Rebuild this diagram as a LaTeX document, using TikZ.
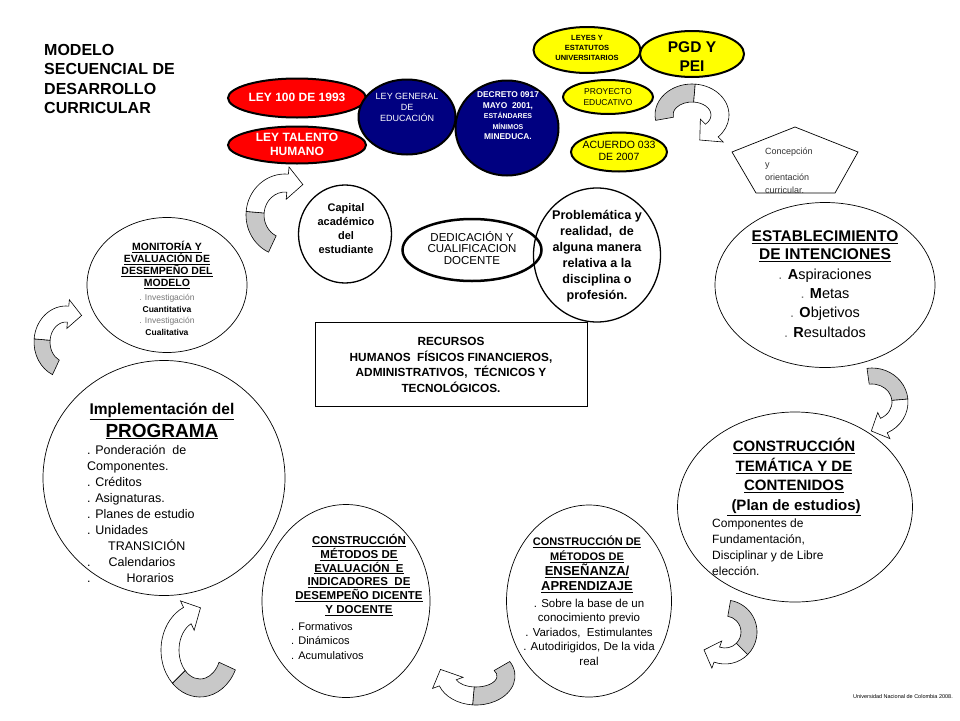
\documentclass[tikz,border=0pt]{standalone}
\usepackage{fontspec}
\setmainfont{Liberation Sans}
\usepackage{xcolor}
\usepackage{tikz}
\usetikzlibrary{shapes,arrows,positioning}

\definecolor{leyred}{RGB}{255,0,0}
\definecolor{leyblue}{RGB}{0,0,128}
\definecolor{leyyellow}{RGB}{255,255,0}
\definecolor{ribbon}{RGB}{200,200,200}
\definecolor{softgray}{RGB}{120,120,120}

\newcommand{\fs}[2]{\fontsize{#1}{#2}\selectfont}
\newcommand{\gdot}{{\color{softgray}.}}
% curved ribbon arrow: cx, cy, rx, ry, start, turn, end, half width
\newcommand{\twistarrow}[8]{%
  \pgfmathsetmacro{\twsg}{ifthenelse(#7>#6,1,-1)}%
  \pgfmathsetmacro{\twdx}{-(\twsg)*#3*sin(#7)}%
  \pgfmathsetmacro{\twdy}{(\twsg)*#4*cos(#7)}%
  \pgfmathsetmacro{\twn}{veclen(\twdx,\twdy)}%
  \pgfmathsetmacro{\twtx}{#3*cos(#7)+1.7*#8*\twdx/\twn}%
  \pgfmathsetmacro{\twty}{#4*sin(#7)+1.7*#8*\twdy/\twn}%
  \begin{scope}[shift={(#1,#2)}]
    \path[twistback] (#5:#3+#8 and #4+#8) arc[start angle=#5, end angle=#6, x radius=#3+#8, y radius=#4+#8]
      -- (#6:#3-#8 and #4-#8) arc[start angle=#6, end angle=#5, x radius=#3-#8, y radius=#4-#8] -- cycle;
    \path[twistfront] (#6:#3+#8 and #4+#8) arc[start angle=#6, end angle=#7, x radius=#3+#8, y radius=#4+#8]
      -- (#7:#3+1.8*#8 and #4+1.8*#8) -- (\twtx,\twty) -- (#7:#3-1.8*#8 and #4-1.8*#8)
      -- (#7:#3-#8 and #4-#8) arc[start angle=#7, end angle=#6, x radius=#3-#8, y radius=#4-#8] -- cycle;
  \end{scope}}

\tikzset{
  law/.style={draw, ellipse, line width=2pt, inner sep=0pt},
  stage/.style={draw, ellipse, line width=0.7pt, inner sep=0pt},
  txt/.style={inner sep=0pt, align=center},
  twistback/.style={draw, line width=0.6pt, fill=ribbon},
  twistfront/.style={draw, line width=0.6pt, fill=white},
}

\begin{document}
\begin{tikzpicture}[x=1pt, y=-1pt]
    \useasboundingbox (0,0) rectangle (960,720);
    \fill[white] (0,0) rectangle (960,720);

    \node[txt, anchor=north west, align=left, font=\bfseries\fs{16}{19.5}] (title) at (44,44) {MODELO\\SECUENCIAL DE\\DESARROLLO\\CURRICULAR};

    \node[law, fill=leyred, minimum width=138, minimum height=39] (ley100) at (297,98) {};
    \node[txt, text=white, font=\bfseries\fs{12}{14}] (ley100t) at (297,97) {LEY 100 DE 1993};
    \node[law, fill=leyred, minimum width=138, minimum height=37] (talento) at (297,145) {};
    \node[txt, text=white, font=\bfseries\fs{12}{14}] (talentot) at (297,144) {LEY TALENTO\\HUMANO};

    \node[law, fill=leyblue, minimum width=97, minimum height=75] (leygen) at (407,117) {};
    \node[txt, text=white, font=\fs{9}{11}] (leygent) at (407,107) {LEY GENERAL\\DE\\EDUCACIÓN};
    \node[law, fill=leyblue, minimum width=103, minimum height=95] (decreto) at (507,128) {};
    \node[txt, text=white, font=\bfseries\fs{8.4}{10.5}] (decretot) at (508,116) {DECRETO 0917\\MAYO \ 2001,\\{\fs{7}{10}ESTÁNDARES}\\{\fs{7}{10}MÍNIMOS}\\MINEDUCA.};

    \node[law, fill=leyyellow, minimum width=107, minimum height=46] (leyes) at (587,50) {};
    \node[txt, font=\bfseries\fs{7.5}{10}] (leyest) at (587,48) {LEYES Y\\ESTATUTOS\\UNIVERSITARIOS};
    \node[law, fill=leyyellow, minimum width=104, minimum height=46] (pgd) at (692,54) {};
    \node[txt, font=\bfseries\fs{15.5}{19}] (pgdt) at (692,57) {PGD Y\\PEI};
    \node[law, fill=leyyellow, minimum width=90, minimum height=34] (proyecto) at (608,97) {};
    \node[txt, font=\fs{8.5}{11}] (proyectot) at (608,97) {PROYECTO\\EDUCATIVO};
    \node[law, fill=leyyellow, minimum width=96, minimum height=39] (acuerdo) at (619,152) {};
    \node[txt, font=\fs{10.5}{12}] (acuerdot) at (619,151) {ACUERDO 033\\DE 2007};

    \draw[line width=0.7pt] (795,127) -- (858,152) -- (835,193) -- (756,193) -- (732,152) -- cycle;
    \node[txt, anchor=west, align=left, text=black!80, font=\fs{9}{13}] (concepcion) at (765,171) {Concepción\\y\\orientación\\curricular.};

    \node[draw, ellipse, line width=1.3pt, minimum width=93, minimum height=98] (capital) at (345,234) {};
    \node[txt, font=\bfseries\fs{11}{14}] (capitalt) at (346,229) {Capital\\académico\\del\\estudiante};
    \node[draw, ellipse, line width=2.5pt, minimum width=139, minimum height=62] (dedicacion) at (472,250) {};
    \node[txt, font=\fs{11.5}{11.7}] (dedicaciont) at (472,248) {DEDICACIÓN Y\\CUALIFICACION\\DOCENTE};
    \node[draw, ellipse, line width=1.3pt, minimum width=127, minimum height=134] (problema) at (597,255) {};
    \node[txt, font=\bfseries\fs{12.6}{16}] (problemat) at (597,256) {Problemática y\\realidad, \ de\\alguna manera\\relativa a la\\disciplina o\\profesión.};

    \node[draw, line width=0.8pt, minimum width=272, minimum height=84] (recursos) at (451,364) {};
    \node[txt, font=\bfseries\fs{11.8}{15.7}] (recursost) at (451,365) {RECURSOS\\HUMANOS \ FÍSICOS FINANCIEROS,\\ADMINISTRATIVOS, \ TÉCNICOS Y\\TECNOLÓGICOS.};

    \node[stage, minimum width=160, minimum height=135] (monitoria) at (167,285) {};
    \node[txt, font=\bfseries\fs{10.5}{12}] (monitoriat) at (167,265) {\underline{MONITORÍA Y}\\\underline{EVALUACIÓN DE}\\\underline{DESEMPEÑO DEL}\\\underline{MODELO}};
    \node[txt, font=\fs{8.5}{11.5}] (monitorial) at (167,315) {{\color{softgray}. Investigación}\\\textbf{Cuantitativa}\\{\color{softgray}. Investigación}\\\textbf{Cualitativa}};

    \node[stage, minimum width=220, minimum height=165] (intenciones) at (825,285) {};
    \node[txt, font=\bfseries\fs{15.5}{18}] (intencionest) at (825,246) {\underline{ESTABLECIMIENTO}\\\underline{DE INTENCIONES}};
    \node[txt, font=\fs{14.5}{19.3}] (intencionesl) at (825,303) {\gdot{} \textbf{A}spiraciones\\\gdot{} \textbf{M}etas\\\gdot{} \textbf{O}bjetivos\\\gdot{} \textbf{R}esultados};

    \node[stage, minimum width=242, minimum height=235] (programa) at (164,478) {};
    \node[txt, font=\bfseries\fs{15.5}{23}] (programat) at (162,421) {\underline{Implementación del}\\\underline{\fs{19}{23}PROGRAMA}};
    \node[txt, anchor=north west, align=left, font=\fs{12.5}{16}] (programal) at (87,445) {. Ponderación \ de\\Componentes.\\. Créditos\\. Asignaturas.\\. Planes de estudio\\. Unidades\\\hspace*{21pt}TRANSICIÓN\\.\hspace*{18pt}Calendarios\\.\hspace*{36pt}Horarios};

    \node[stage, minimum width=235, minimum height=190] (tematica) at (795,507) {};
    \node[txt, font=\bfseries\fs{15}{19.5}] (tematicat) at (794,477) {\underline{CONSTRUCCIÓN}\\\underline{TEMÁTICA Y DE}\\\underline{CONTENIDOS}\\\underline{\ (Plan de estudios)}};
    \node[txt, anchor=north west, align=left, font=\fs{12}{16}] (tematical) at (712,519) {Componentes de\\Fundamentación,\\Disciplinar y de Libre\\elección.};

    \node[stage, minimum width=168, minimum height=193] (evaluacion) at (346,601) {};
    \node[txt, font=\bfseries\fs{11.5}{13.8}] (evaluaciont) at (359,575) {\underline{CONSTRUCCIÓN}\\\underline{MÉTODOS DE}\\\underline{EVALUACIÓN \ E}\\\underline{INDICADORES \ DE}\\\underline{DESEMPEÑO DICENTE}\\\underline{Y DOCENTE}};
    \node[txt, anchor=north west, align=left, font=\fs{11}{14.5}] (evaluacionl) at (291,622) {. Formativos\\. Dinámicos\\. Acumulativos};

    \node[stage, minimum width=165, minimum height=192] (ensenanza) at (589,601) {};
    \node[txt, font=\bfseries\fs{11}{15}] (ensenanzat) at (587,564) {\underline{CONSTRUCCIÓN DE}\\\underline{MÉTODOS DE}\\\underline{\fs{13}{15}ENSEÑANZA/}\\\underline{\fs{13}{15}APRENDIZAJE}};
    \node[txt, font=\fs{11.5}{14.5}] (ensenanzal) at (589,632) {. Sobre la base de un\\conocimiento previo\\. Variados, \ Estimulantes\\. Autodirigidos, De la vida\\real};

    \node[txt, anchor=east, font=\fs{5.5}{6}] (fuente) at (953,697) {Universidad Nacional de Colombia 2008.};

    \twistarrow{692}{115}{28}{22}{170}{275}{405}{9}
    \twistarrow{285}{215}{30}{32}{115}{185}{275}{9}
    \twistarrow{66}{342}{24}{28}{115}{185}{275}{8}
    \twistarrow{872}{402}{28}{26}{262}{355}{425}{8}
    \twistarrow{200}{650}{30}{38}{25}{135}{245}{9}
    \twistarrow{476}{676}{30}{20}{-30}{95}{160}{9}
    \twistarrow{725}{632}{24}{24}{-80}{45}{110}{8}
\end{tikzpicture}
\end{document}
